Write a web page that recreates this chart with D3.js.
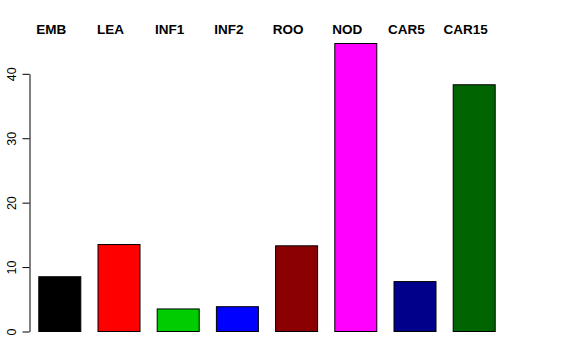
<!DOCTYPE html>
<html>
<head>
<meta charset="utf-8">
<script src="https://cdn.jsdelivr.net/npm/d3@7"></script>
<style>
  body { margin: 0; background: #fff; }
  svg { display: block; font-family: "Liberation Sans", Arial, sans-serif; }
</style>
</head>
<body>
<script>
// data
const categories = ['EMB', 'LEA', 'INF1', 'INF2', 'ROO', 'NOD', 'CAR5', 'CAR15'];
const values = [8.5, 13.5, 3.5, 3.85, 13.3, 44.7, 7.75, 38.3];
const colors = ['#000000', '#ff0000', '#00cd00', '#0000ff', '#8b0000', '#ff00ff', '#00008b', '#006400'];
const yTicks = [0, 10, 20, 30, 40];

// layout constants
const width = 576;
const height = 360;
const axisX = 29;
const barStep = 59.2;
const barWidth = 42;
const firstBar = 38.3;

const svg = d3.select('body')
  .append('svg')
  .attr('width', width)
  .attr('height', height);

// bars sit on fixed steps, like R's barplot
const scaleX = d3.scaleBand()
  .domain(categories)
  .range([firstBar - (barStep - barWidth) / 2, firstBar - (barStep - barWidth) / 2 + barStep * categories.length])
  .paddingInner((barStep - barWidth) / barStep)
  .paddingOuter((barStep - barWidth) / barStep / 2);

const scaleY = d3.scaleLinear()
  .domain([0, 40])
  .range([331, 73.3]);

svg.selectAll('rect.bar')
  .data(values)
  .join('rect')
  .attr('class', 'bar')
  .attr('x', (d, i) => scaleX(categories[i]) + 0.5)
  .attr('y', (d) => scaleY(d) + 0.5)
  .attr('width', scaleX.bandwidth())
  .attr('height', (d) => scaleY(0) - scaleY(d))
  .attr('fill', (d, i) => colors[i])
  .attr('stroke', '#000')
  .attr('stroke-width', 1);

// category labels along the top, nudged left of the bar centres
svg.selectAll('text.cat')
  .data(categories)
  .join('text')
  .attr('class', 'cat')
  .attr('x', (d) => scaleX(d) + scaleX.bandwidth() / 2 - 8)
  .attr('y', 34)
  .attr('text-anchor', 'middle')
  .attr('font-weight', 'bold')
  .attr('font-size', 13.5)
  .text((d) => d);

// left axis with rotated labels
const gLeft = svg.append('g')
  .attr('transform', `translate(${axisX + 0.5}, 0.5)`);
gLeft.call(d3.axisLeft(scaleY).tickValues(yTicks).tickSize(7).tickSizeOuter(0));
gLeft.select('.domain').attr('stroke', '#000');
gLeft.selectAll('.tick line').attr('stroke', '#000');
gLeft.selectAll('.tick text')
  .attr('font-size', 12.5)
  .attr('font-family', '"Liberation Sans", Arial, sans-serif')
  .attr('fill', '#000')
  .attr('transform', 'rotate(-90)')
  .attr('x', 0)
  .attr('y', -14)
  .attr('dy', 0)
  .attr('text-anchor', 'middle');
</script>
</body>
</html>
